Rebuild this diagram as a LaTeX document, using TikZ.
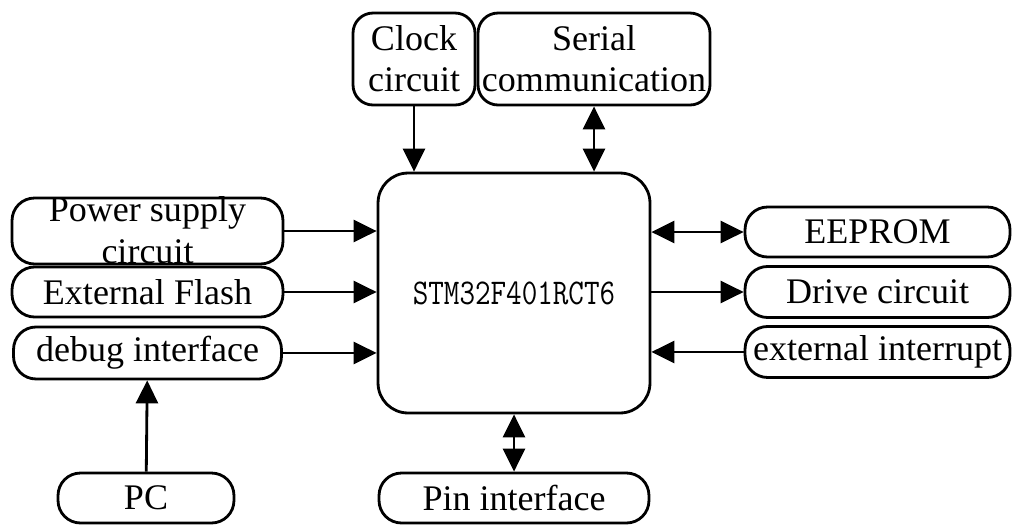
\documentclass[tikz,border=0pt]{standalone}
\usepackage{fontspec}
\setmainfont{Liberation Serif}
\usetikzlibrary{arrows.meta}

\begin{document}
\begin{tikzpicture}[x=0.02cm, y=-0.02cm, node distance=1.22cm]
    \tikzstyle{roundnode} = [rectangle, rounded corners=0.45cm, draw=black, line width=1.6pt,
      inner sep=0pt, align=center, font=\fontsize{20.5pt}{23.5pt}\selectfont]
    \tikzstyle{chipnode} = [rectangle, rounded corners=0.6cm, draw=black, line width=1.6pt,
      minimum width=5.44cm, minimum height=4.8cm]
    \tikzstyle{arrow} = [line width=1.6pt, -{Triangle[length=0.46cm, width=0.44cm]}]
    \tikzstyle{dblarrow} = [line width=1.6pt,
      {Triangle[length=0.46cm, width=0.44cm]}-{Triangle[length=0.46cm, width=0.44cm]}]

    \useasboundingbox (0,0) rectangle (1013,525);

    \node (mcu) [chipnode] at (514,293) {\fontsize{17.2pt}{20pt}\ttfamily\scalebox{1}[1.2]{STM32F401RCT6}};

    \node (clock) [roundnode, rounded corners=0.4cm, minimum width=2.44cm, minimum height=1.84cm] at (414,59) {Clock\\circuit};
    \node (serial) [roundnode, rounded corners=0.4cm, minimum width=4.64cm, minimum height=1.84cm] at (594,59) {Serial\\communication};

    \node (power) [roundnode, minimum width=5.42cm, minimum height=1.32cm, text height=1.3cm, text depth=0.02cm] at (147.5,231) {Power supply\\circuit};
    \node (flash) [roundnode, minimum width=5.42cm, minimum height=1.0cm, below of=power] {External Flash};
    \node (debug) [roundnode, minimum width=5.36cm, minimum height=1.04cm, below of=flash] {debug interface};
    \node (pc) [roundnode, minimum width=3.52cm, minimum height=1.0cm] at (146,498) {PC};

    \node (pin) [roundnode, minimum width=5.4cm, minimum height=1.0cm] at (514,498) {Pin interface};

    \node (eeprom) [roundnode, minimum width=5.3cm, minimum height=1.0cm] at (877.5,232) {EEPROM};
    \node (drive) [roundnode, minimum width=5.3cm, minimum height=1.02cm, below of=eeprom, node distance=1.2cm] {Drive circuit};
    \node (intr) [roundnode, minimum width=5.3cm, minimum height=1.02cm, below of=drive, node distance=1.2cm] {external interrupt};

    \draw [arrow] (clock) -- (clock |- mcu.north);
    \draw [dblarrow] (serial) -- (serial |- mcu.north);
    \draw [arrow] (power) -- (power -| mcu.west);
    \draw [arrow] (flash) -- (flash -| mcu.west);
    \draw [arrow] (debug) -- (debug -| mcu.west);
    \draw [arrow] (pc) -- (debug);
    \draw [dblarrow] (mcu) -- (pin);
    \draw [dblarrow] (eeprom -| mcu.east) -- (eeprom);
    \draw [arrow] (drive -| mcu.east) -- (drive);
    \draw [arrow] (intr) -- (intr -| mcu.east);
  \end{tikzpicture}
\end{document}
